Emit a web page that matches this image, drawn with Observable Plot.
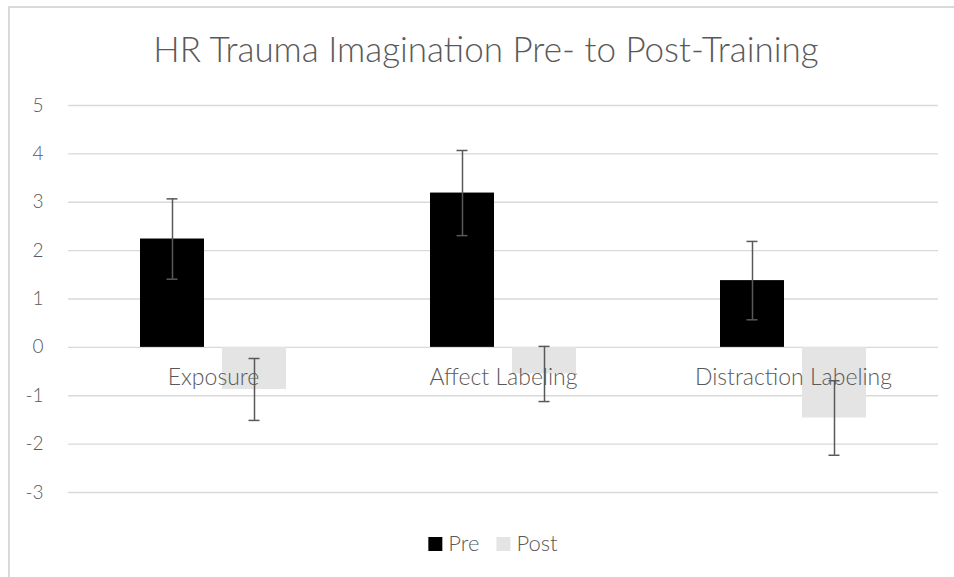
<!DOCTYPE html>
<html><head><meta charset="utf-8">
<script src="https://cdn.jsdelivr.net/npm/d3@7"></script>
<script src="https://cdn.jsdelivr.net/npm/@observablehq/plot@0.6"></script>
<style>
html,body{margin:0;padding:0;background:#fff;overflow:hidden;}
#wrap{position:relative;width:954px;height:577px;overflow:hidden;}
#frame{position:absolute;left:8px;top:6px;width:1000px;height:700px;border-left:2px solid #d9d9d9;border-top:2px solid #d9d9d9;}
#wrap svg{position:absolute;left:0;top:0;}
svg text{font-family:Lato,"Open Sans",sans-serif;font-weight:300;}
</style></head><body><div id="wrap"><div id="frame"></div></div>
<script>
const title = "HR Trauma Imagination Pre- to Post-Training";
const categories = ["Exposure", "Affect Labeling", "Distraction Labeling"];
const series = ["Pre", "Post"];
const preValues = [2.24, 3.19, 1.38];
const postValues = [-0.87, -0.55, -1.46];
const preErrors = [0.83, 0.88, 0.81];
const postErrors = [0.64, 0.57, 0.77];
const yTicks = [-3, -2, -1, 0, 1, 2, 3, 4, 5];
const colors = ["#000000", "#e4e4e4"];

const rows = [];
categories.forEach((c, i) => {
  rows.push({category: c, series: "Pre", value: preValues[i], err: preErrors[i]});
  rows.push({category: c, series: "Post", value: postValues[i], err: postErrors[i]});
});
const lo = d => d.value - d.err;
const hi = d => d.value + d.err;
const ink = "#595959";

const chart = Plot.plot({
  width: 954, height: 577,
  marginLeft: 68, marginRight: 16, marginTop: 105, marginBottom: 85,
  style: {background: "transparent", color: ink},
  fx: {domain: categories, padding: 0, axis: null},
  x: {domain: series, paddingInner: 0.217, paddingOuter: 0.856, axis: null},
  y: {domain: [-3, 5], axis: null},
  color: {domain: series, range: colors},
  marks: [
    Plot.gridY(yTicks, {stroke: "#d9d9d9", strokeOpacity: 1, strokeWidth: 1.3}),
    Plot.axisY(yTicks, {tickSize: 0, tickPadding: 25, tickFormat: d => String(d), fill: ink, fontSize: 19, label: null}),
    Plot.barY(rows, {fx: "category", x: "series", y: "value", fill: "series"}),
    Plot.text(categories, {fx: d => d, y: () => 0, text: d => d, dy: 30, fill: ink, fontSize: 23}),
    Plot.ruleX(rows, {fx: "category", x: "series", y1: lo, y2: hi, stroke: ink, strokeWidth: 1.5}),
    Plot.tickY(rows, {fx: "category", x: "series", y: lo, stroke: ink, strokeWidth: 1.5, insetLeft: 26.5, insetRight: 26.5}),
    Plot.tickY(rows, {fx: "category", x: "series", y: hi, stroke: ink, strokeWidth: 1.5, insetLeft: 26.5, insetRight: 26.5})
  ]
});
document.getElementById("wrap").appendChild(chart);

const svg = d3.select(chart);
// title
svg.append("text")
  .attr("class", "title")
  .attr("x", 486).attr("y", 62)
  .attr("text-anchor", "middle")
  .attr("fill", ink)
  .style("font-size", "35px")
  .text(title);

// legend
const lg = svg.append("g").attr("class", "legend").attr("text-anchor", "start");
let cx = 0;
series.forEach((s, i) => {
  lg.append("rect").attr("x", cx).attr("y", -14).attr("width", 14).attr("height", 14).attr("fill", colors[i]);
  const t = lg.append("text").attr("x", cx + 20).attr("y", 0)
    .attr("text-anchor", "start").attr("fill", ink).style("font-size", "22px").text(s);
  const w = t.node().getComputedTextLength();
  cx += 20 + w + 17;
});
const total = cx - 17;
lg.attr("transform", `translate(${493 - total / 2},551)`);
</script></body></html>
